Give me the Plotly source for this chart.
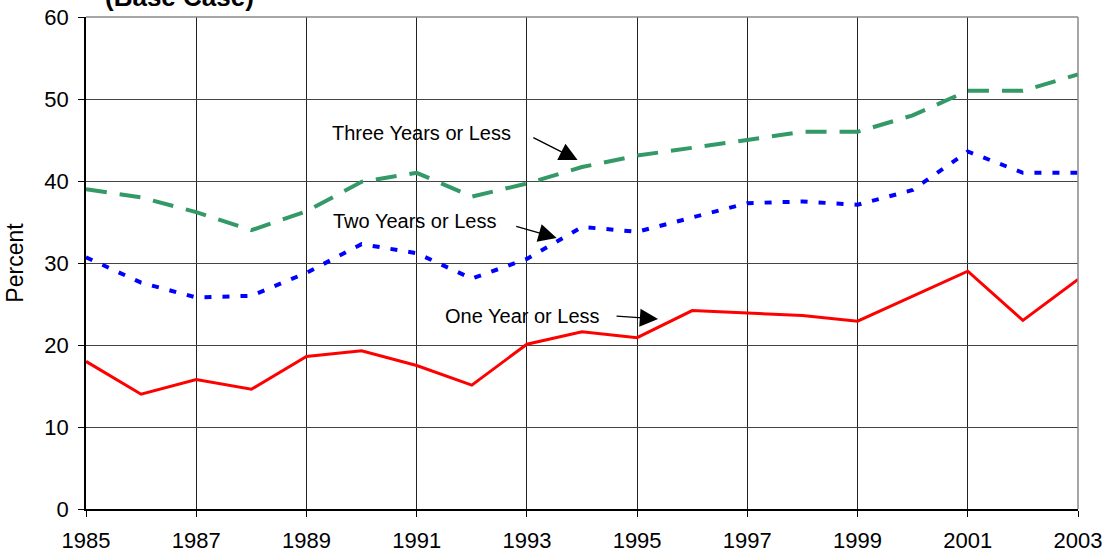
import plotly.graph_objects as go

years = list(range(1985, 2004))

one_year = [18.0, 14.0, 15.8, 14.6, 18.6, 19.3, 17.5, 15.1, 20.1, 21.6,
            20.9, 24.2, 23.9, 23.6, 22.9, 26.0, 29.0, 23.0, 28.0]
two_years = [30.7, 27.6, 25.8, 26.0, 28.8, 32.3, 31.2, 28.1, 30.5, 34.4,
             33.8, 35.6, 37.3, 37.5, 37.1, 38.9, 43.6, 41.0, 41.0]
three_years = [39.0, 38.0, 36.2, 34.0, 36.3, 39.9, 41.0, 38.1, 39.7, 41.7,
               43.1, 44.0, 45.0, 46.0, 46.0, 48.0, 51.0, 51.0, 53.0]

x_ticks = list(range(1985, 2004, 2))
y_ticks = [0, 10, 20, 30, 40, 50, 60]

# label text position and arrow tail -> head, in data units
labels = [
    ("Three Years or Less", 1991.09, 45.85, (1993.09, 45.37), (1993.92, 42.56)),
    ("Two Years or Less", 1990.96, 35.12, (1992.78, 34.51), (1993.54, 33.05)),
    ("One Year or Less", 1992.92, 23.54, (1994.60, 23.54), (1995.38, 23.17)),
]

fig = go.Figure()

fig.add_trace(go.Scatter(x=years, y=three_years, mode='lines',
                         line=dict(color='#339966', width=4, dash='21px,13px'),
                         name='Three Years or Less'))
fig.add_trace(go.Scatter(x=years, y=two_years, mode='lines',
                         line=dict(color='#0000ff', width=4, dash='7px,11px'),
                         name='Two Years or Less'))
fig.add_trace(go.Scatter(x=years, y=one_year, mode='lines',
                         line=dict(color='#ff0000', width=3),
                         name='One Year or Less'))

font = dict(family='Liberation Sans, Arial, sans-serif', color='black')

for text, tx, ty, tail, head in labels:
    fig.add_annotation(x=tx, y=ty, text=text, showarrow=False,
                       font=dict(size=20, **font))
    fig.add_annotation(x=head[0], y=head[1], ax=tail[0], ay=tail[1],
                       axref='x', ayref='y', text='', showarrow=True,
                       arrowhead=2, arrowsize=2.6, arrowwidth=1.4,
                       arrowcolor='black')

fig.add_annotation(xref='paper', yref='paper', x=0.0176, y=1.006,
                   xanchor='left', yanchor='bottom', text='<b>(Base Case)</b>',
                   showarrow=False, font=dict(size=26, **font))

# grey frame on top and right
fig.add_shape(type='line', xref='paper', yref='paper', x0=0, x1=1, y0=1, y1=1,
              line=dict(color='#888888', width=1.5))
fig.add_shape(type='line', xref='paper', yref='paper', x0=1, x1=1, y0=0, y1=1,
              line=dict(color='#888888', width=1.5))

fig.update_layout(
    width=1112, height=557,
    margin=dict(l=86, r=34, t=17, b=48),
    paper_bgcolor='white', plot_bgcolor='white',
    showlegend=False,
    font=font,
    xaxis=dict(range=[1985, 2003], tickvals=x_ticks, showgrid=True,
               gridcolor='#222222', gridwidth=1, showline=True,
               linecolor='black', linewidth=1.5, ticks='outside', ticklen=6,
               tickcolor='black', tickfont=dict(size=22, **font),
               ticklabelstandoff=5, zeroline=False, automargin=False),
    yaxis=dict(range=[0, 60], tickvals=y_ticks, showgrid=True,
               gridcolor='#444444', gridwidth=1, showline=True,
               linecolor='black', linewidth=1.5, ticks='outside', ticklen=6,
               tickcolor='black', tickfont=dict(size=22, **font),
               ticklabelstandoff=5,
               title=dict(text='Percent', font=dict(size=23, **font), standoff=14),
               zeroline=False, automargin=False),
)

# drop the default body margin so the figure sits at the page corner
fig.write_html("out.html", config={'displayModeBar': False},
               post_script="document.body.style.margin='0';")
